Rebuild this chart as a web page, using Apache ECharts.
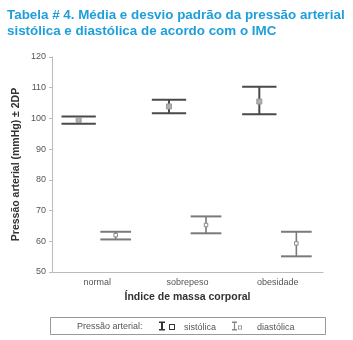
<!DOCTYPE html>
<html>
<head>
<meta charset="utf-8">
<script src="https://cdn.jsdelivr.net/npm/echarts@6/dist/echarts.min.js"></script>
<style>
  html, body { margin: 0; padding: 0; background: #fff; }
  #chart { width: 353px; height: 340px; }
</style>
</head>
<body>
<div id="chart"></div>
<script>
// categorias do IMC
var categories = ['normal', 'sobrepeso', 'obesidade'];
// pressão sistólica: média, limite inferior e superior (± 2DP)
var sistolicaMedia = [99.5, 103.9, 105.5];
var sistolicaInf = [98.3, 101.7, 101.4];
var sistolicaSup = [100.6, 106.1, 110.3];
// pressão diastólica
var diastolicaMedia = [62.0, 65.3, 59.3];
var diastolicaInf = [60.6, 62.6, 55.1];
var diastolicaSup = [63.1, 68.1, 63.1];
// ticks do eixo y
var yMin = 50, yMax = 120, yStep = 10;

function montaDados(inf, sup, media){
	var d = [];
	for(var i = 0; i < categories.length; i++){
		d.push([i, inf[i], sup[i], media[i]]);
	}
	return d;
}

// desenha barra de erro com marcador da média
function barraErro(desloc, meiaLarg, cor, capW, stemW, marcador){
	return function(params, api){
		var band = api.size([1, 0])[0];
		var cx = api.coord([api.value(0), api.value(1)])[0] + band * desloc;
		var yInf = api.coord([api.value(0), api.value(1)])[1];
		var ySup = api.coord([api.value(0), api.value(2)])[1];
		var yMed = api.coord([api.value(0), api.value(3)])[1];
		var w = band * meiaLarg;
		var ls = {stroke: cor, lineWidth: capW};
		return {
			type: 'group',
			children: [
				{type: 'line', shape: {x1: cx, y1: ySup, x2: cx, y2: yInf}, style: {stroke: cor, lineWidth: stemW}},
				{type: 'line', shape: {x1: cx - w, y1: ySup, x2: cx + w, y2: ySup}, style: ls},
				{type: 'line', shape: {x1: cx - w, y1: yInf, x2: cx + w, y2: yInf}, style: ls},
				{type: 'rect', shape: {x: cx - marcador.s / 2, y: yMed - marcador.s / 2, width: marcador.s, height: marcador.s},
					style: {fill: marcador.fill, stroke: marcador.stroke, lineWidth: 1}}
			]
		};
	};
}

// ícones da legenda: barra em I + quadrado vazado (ponto invisível no canto para o espaçamento)
var iconeSist = 'path://M0 0H6V1.6H4V7.4H6V9H0V7.4H2V1.6H0Z M10 2.5H16V8.5H10Z M11 3.5V7.5H15V3.5Z M20 12H20.01V12.01Z';
var iconeDiast = 'path://M0 0H5V1.4H3.1V7.6H5V9H0V7.6H1.9V1.4H0Z M6 4H10V8H6Z M6.8 4.8V7.2H9.2V4.8Z M20 12H20.01V12.01Z';

var chart = echarts.init(document.getElementById('chart'));
var option = {
	backgroundColor: '#fff',
	animation: false,
	title: {
		text: 'Tabela # 4. Média e desvio padrão da pressão arterial\nsistólica e diastólica de acordo com o IMC',
		left: 2, top: 2,
		textStyle: {fontFamily: 'Liberation Sans, Arial', fontWeight: 'bold', fontSize: 13.4, color: '#1e9fdb', lineHeight: 16}
	},
	grid: {left: 52, right: 30, top: 57, bottom: 68},
	xAxis: {
		type: 'category',
		data: categories,
		name: 'Índice de massa corporal',
		nameLocation: 'middle',
		nameGap: 20,
		nameTextStyle: {fontFamily: 'Liberation Sans, Arial', fontWeight: 'bold', fontSize: 10.5, color: '#333'},
		axisLine: {lineStyle: {color: '#bbb'}},
		axisTick: {alignWithLabel: true, length: 3, lineStyle: {color: '#bbb'}},
		axisLabel: {fontFamily: 'Liberation Sans, Arial', fontSize: 9, color: '#555', margin: 6}
	},
	yAxis: {
		type: 'value',
		min: yMin, max: yMax, interval: yStep,
		name: 'Pressão arterial (mmHg) ± 2DP',
		nameLocation: 'middle',
		nameGap: 30,
		nameMoveOverlap: false,
		nameTextStyle: {fontFamily: 'Liberation Sans, Arial', fontWeight: 'bold', fontSize: 10.5, color: '#333'},
		axisLine: {show: true, lineStyle: {color: '#bbb'}},
		axisTick: {show: true, length: 3, lineStyle: {color: '#bbb'}},
		splitLine: {show: false},
		axisLabel: {fontFamily: 'Liberation Sans, Arial', fontSize: 9, color: '#555', margin: 6}
	},
	legend: {
		left: 159, top: 321.5, padding: 0,
		itemWidth: 20, itemHeight: 12, itemGap: 16,
		textStyle: {fontFamily: 'Liberation Sans, Arial', fontSize: 9, color: '#555'},
		data: [
			{name: 'sistólica', icon: iconeSist, itemStyle: {color: '#333'}},
			{name: 'diastólica', icon: iconeDiast, itemStyle: {color: '#888'}}
		]
	},
	graphic: [
		{type: 'rect', shape: {x: 50.5, y: 317.5, width: 275, height: 17}, style: {fill: 'none', stroke: '#999', lineWidth: 1}},
		{type: 'text', x: 77, y: 326.5, style: {text: 'Pressão arterial:', fontFamily: 'Liberation Sans, Arial', fontSize: 9, fill: '#555', textVerticalAlign: 'middle'}}
	],
	series: [
		{
			name: 'sistólica', type: 'custom',
			renderItem: barraErro(-0.205, 0.19, '#4a4a4a', 2, 2, {s: 5, fill: '#b0b0b0', stroke: '#999'}),
			encode: {x: 0, y: [1, 2]},
			data: montaDados(sistolicaInf, sistolicaSup, sistolicaMedia)
		},
		{
			name: 'diastólica', type: 'custom',
			renderItem: barraErro(0.205, 0.17, '#7a7a7a', 2, 1.6, {s: 3.5, fill: '#fff', stroke: '#888'}),
			encode: {x: 0, y: [1, 2]},
			data: montaDados(diastolicaInf, diastolicaSup, diastolicaMedia)
		}
	]
};
chart.setOption(option);
</script>
</body>
</html>
